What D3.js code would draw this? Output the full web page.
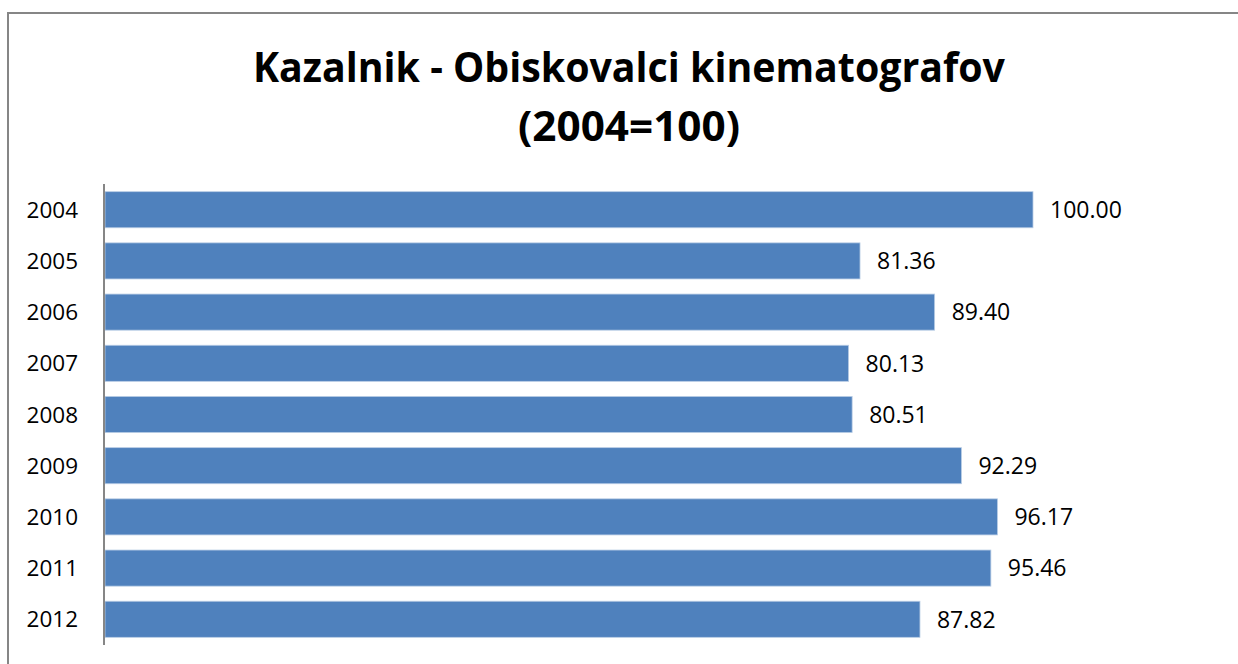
<!DOCTYPE html>
<html><head><meta charset="utf-8">
<script src="https://cdn.jsdelivr.net/npm/d3@7"></script>
<style>body{margin:0;background:#fff}svg{display:block}</style>
</head><body><svg id="c" width="1238" height="664"></svg>
<script>
const categories = ["2004","2005","2006","2007","2008","2009","2010","2011","2012"];
const values = [100.00, 81.36, 89.40, 80.13, 80.51, 92.29, 96.17, 95.46, 87.82];
const valueLabels = ["100.00","81.36","89.40","80.13","80.51","92.29","96.17","95.46","87.82"];
const titleLines = ["Kazalnik - Obiskovalci kinematografov", "(2004=100)"];

const svg = d3.select("#c");
svg.append("rect").attr("x",8).attr("y",13).attr("width",1240).attr("height",700)
  .attr("fill","#fff").attr("stroke","#868686").attr("stroke-width",2);

const x = d3.scaleLinear().domain([0,100]).range([105,1033]);
const y = d3.scaleBand().domain(categories).range([184,645]).paddingInner(0.295).paddingOuter(0.15);

// title
const tl = [{t:titleLines[0], y:82, w:752},{t:titleLines[1], y:141, w:222}];
tl.forEach(d=>{
  svg.append("text").attr("x",629).attr("y",d.y).attr("text-anchor","middle")
    .attr("font-family","Open Sans, sans-serif").attr("font-weight","bold").attr("font-size",41)
    .attr("textLength",d.w).attr("lengthAdjust","spacingAndGlyphs").attr("fill","#000").text(d.t);
});

// bars
svg.selectAll("rect.bar").data(values).join("rect").attr("class","bar")
  .attr("x",x(0)).attr("y",(d,i)=>y(categories[i]))
  .attr("width",d=>x(d)-x(0)).attr("height",y.bandwidth())
  .attr("fill","#4F81BD").attr("stroke","#B9CDE5").attr("stroke-width",0.8);

// axis
const ax = svg.append("g").attr("transform",`translate(${x(0)-1},0)`)
  .call(d3.axisLeft(y).tickSize(0).tickPadding(26).tickSizeOuter(0));
ax.select(".domain").attr("stroke","#868686").attr("stroke-width",2).attr("d","M0,184V645");
ax.selectAll("text").attr("font-family","Open Sans, sans-serif").attr("font-size",22.5).attr("fill","#000")
  .attr("dy","0.36em");

// value labels
svg.selectAll("text.val").data(values).join("text").attr("class","val")
  .attr("x",d=>x(d)+17).attr("y",(d,i)=>y(categories[i])+y.bandwidth()/2)
  .attr("dy","0.36em")
  .attr("font-family","Open Sans, sans-serif").attr("font-size",23).attr("fill","#000")
  .text((d,i)=>valueLabels[i]);
</script></body></html>
